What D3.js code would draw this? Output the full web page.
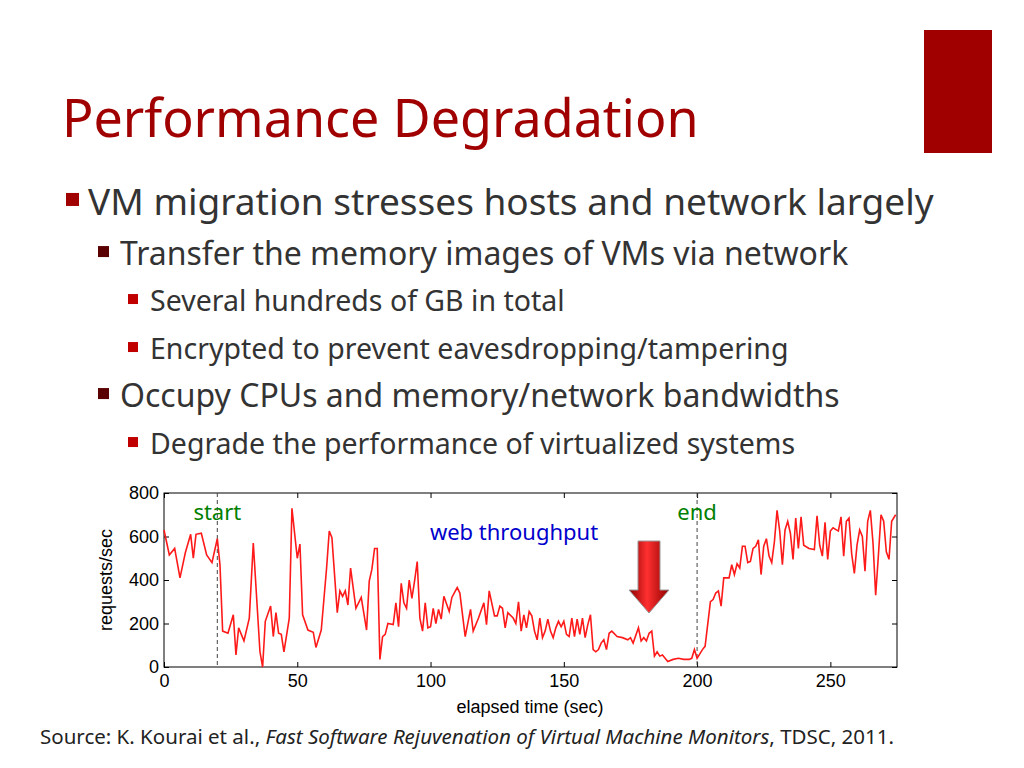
<!DOCTYPE html>
<html><head><meta charset="utf-8">
<script src="https://cdn.jsdelivr.net/npm/d3@7"></script>
<style>body{margin:0;background:#fff}</style>
</head><body>
<div id="slide"></div>
<script>
// throughput samples (seconds, requests/sec)
const times = [0,2,4,6,8,10,11,12,14,16,18,20,21,22,24,26,27,28,30,32,33.5,36,37,38,40,41,42,43,44,45,47,48,50,51,52,54,56,57,59,61,62,63,65,66,67,68,69,70,72,74,76,77,78,79,80,81,82,83,84,86,87,88,89,90,91,92,93,94,95,96,97,98,99,100,101,102,103,104,105,107,108,110,111,113,115,116,118,120,121,122,124,125,126,127,128,129,131,132,133,134,135,136,137,138,139,140,141,142,143,144,145,146,147,148,149,150,151,152,153,154,155,156,157,158,159,160,161,162,163,164,165,166,167,168,170,172,174,175,176,178,179,180,181,182,183,184,185,186,187,188,189,191,193,195,197,198,199,200,202,203,205,206,207,208,209,210,212,213,214,215,216,217,218,219,220,221,222,223,224,225,226,227,228,229,230,231,232,233,234,235,236,237,238,239,240,242,244,245,246,247,248,249,250,251,253,254,255,256,257,258,259,260,261,262,263,264,265,266,267,268,269,270,271,272,273,274.5];
const reqs = [630,515,545,410,525,610,500,610,615,515,480,590,470,165,155,240,55,180,120,225,570,70,0,210,280,140,250,155,150,70,225,730,500,565,240,170,160,90,170,455,625,595,250,350,325,350,285,455,270,320,170,395,450,545,545,35,140,150,200,195,295,185,385,295,270,400,315,395,485,225,165,295,180,185,270,200,265,220,325,255,320,365,340,140,265,165,225,295,195,350,235,235,280,270,180,250,225,200,300,165,240,180,255,235,165,125,225,135,165,220,165,135,180,210,185,210,150,140,225,140,220,150,225,135,195,240,80,70,80,110,125,80,155,165,140,135,125,135,110,180,120,135,120,155,165,50,70,50,55,40,25,35,40,35,35,40,80,40,80,95,300,310,340,350,280,410,410,470,425,475,455,555,555,480,485,545,555,585,425,555,590,510,480,575,720,625,470,630,670,615,495,685,545,690,560,545,540,695,560,510,665,495,625,640,625,690,510,670,685,520,430,560,630,600,440,670,720,570,330,510,700,670,530,495,670,700];
const xTicks = [0,50,100,150,200,250];
const yTicks = [0,200,400,600,800];
const markers = [{t:20,label:"start"},{t:200,label:"end"}];
const bullets = [
  {lvl:1, text:"VM migration stresses hosts and network largely"},
  {lvl:2, text:"Transfer the memory images of VMs via network"},
  {lvl:3, text:"Several hundreds of GB in total"},
  {lvl:3, text:"Encrypted to prevent eavesdropping/tampering"},
  {lvl:2, text:"Occupy CPUs and memory/network bandwidths"},
  {lvl:3, text:"Degrade the performance of virtualized systems"}
];

const svg = d3.select("#slide").append("svg").attr("width",1024).attr("height",768);
const font = "'Noto Sans', sans-serif";

svg.append("rect").attr("x",924).attr("y",30).attr("width",68).attr("height",123).attr("fill","#a00000");
svg.append("text").attr("x",62).attr("y",137).attr("font-family",font).attr("font-size",52)
  .attr("fill","#a00000").text("Performance Degradation");

// bullet list
const lvlStyle = {
  1:{bx:66,sq:13,tx:88,size:37,col:"#a00000"},
  2:{bx:98,sq:11,tx:120,size:32,col:"#5a0000"},
  3:{bx:128,sq:10,tx:150,size:28.5,col:"#c00000"}
};
const ys = [215,265,311,359,407,454];
bullets.forEach((b,i)=>{
  const s = lvlStyle[b.lvl];
  svg.append("rect").attr("x",s.bx).attr("y",ys[i]-s.size*0.42-s.sq/2).attr("width",s.sq).attr("height",s.sq).attr("fill",s.col);
  svg.append("text").attr("x",s.tx).attr("y",ys[i]).attr("font-family",font).attr("font-size",s.size)
    .attr("fill","#333").text(b.text);
});

// chart
const x = d3.scaleLinear().domain([0,275]).range([164,897]);
const y = d3.scaleLinear().domain([0,800]).range([667,493]);
const g = svg.append("g");
g.append("rect").attr("x",164).attr("y",493).attr("width",733).attr("height",174).attr("fill","none").attr("stroke","#000");
g.append("g").attr("transform","translate(0,667)")
  .call(d3.axisBottom(x).tickValues(xTicks).tickSize(-5).tickPadding(7))
  .call(a=>a.select(".domain").remove())
  .call(a=>a.selectAll("text").attr("font-family","'Liberation Sans', Arial").attr("font-size",18).attr("fill","#000"));
g.append("g").attr("transform","translate(0,493)")
  .call(d3.axisTop(x).tickValues(xTicks).tickSize(-5).tickFormat(""))
  .call(a=>a.select(".domain").remove());
g.append("g").attr("transform","translate(164,0)")
  .call(d3.axisLeft(y).tickValues(yTicks).tickSize(-5).tickPadding(5))
  .call(a=>a.select(".domain").remove())
  .call(a=>a.selectAll("text").attr("font-family","'Liberation Sans', Arial").attr("font-size",18).attr("fill","#000"));
g.append("g").attr("transform","translate(897,0)")
  .call(d3.axisRight(y).tickValues(yTicks).tickSize(-5).tickFormat(""))
  .call(a=>a.select(".domain").remove());

markers.forEach(m=>{
  g.append("line").attr("x1",x(m.t)).attr("x2",x(m.t)).attr("y1",493).attr("y2",667)
    .attr("stroke","#444").attr("stroke-dasharray","4,3");
  g.append("text").attr("x",x(m.t)).attr("y",520).attr("text-anchor","middle")
    .attr("font-family",font).attr("font-size",22).attr("fill","#008000").text(m.label);
});
g.append("text").attr("x",514).attr("y",540).attr("text-anchor","middle").attr("font-family",font)
  .attr("font-size",22).attr("fill","#0000cc").text("web throughput");

const line = d3.line().x((d,i)=>x(times[i])).y(d=>y(d));
g.append("path").datum(reqs).attr("d",line).attr("fill","none").attr("stroke","#ff1a1a").attr("stroke-width",1.6);

g.append("text").attr("x",530).attr("y",713).attr("text-anchor","middle").attr("font-family","'Liberation Sans', Arial")
  .attr("font-size",18).text("elapsed time (sec)");
g.append("text").attr("transform","translate(112,580) rotate(-90)").attr("text-anchor","middle")
  .attr("font-family","'Liberation Sans', Arial").attr("font-size",18).text("requests/sec");

// arrow
const defs = svg.append("defs");
const gr = defs.append("linearGradient").attr("id","ag").attr("x1","0").attr("x2","1");
gr.append("stop").attr("offset","0").attr("stop-color","#8b0000");
gr.append("stop").attr("offset","0.45").attr("stop-color","#ff3030");
gr.append("stop").attr("offset","1").attr("stop-color","#900000");
svg.append("path").attr("d","M638,541 L660,541 L660,590 L669,590 L649,613 L629,590 L638,590 Z")
  .attr("fill","url(#ag)").attr("stroke","#999").attr("stroke-width",1);

// source line
const src = svg.append("text").attr("x",40).attr("y",744).attr("font-family",font).attr("font-size",20.5).attr("fill","#222");
src.append("tspan").text("Source: K. Kourai et al., ");
src.append("tspan").attr("font-style","italic").text("Fast Software Rejuvenation of Virtual Machine Monitors");
src.append("tspan").text(", TDSC, 2011.");
</script>
</body></html>
